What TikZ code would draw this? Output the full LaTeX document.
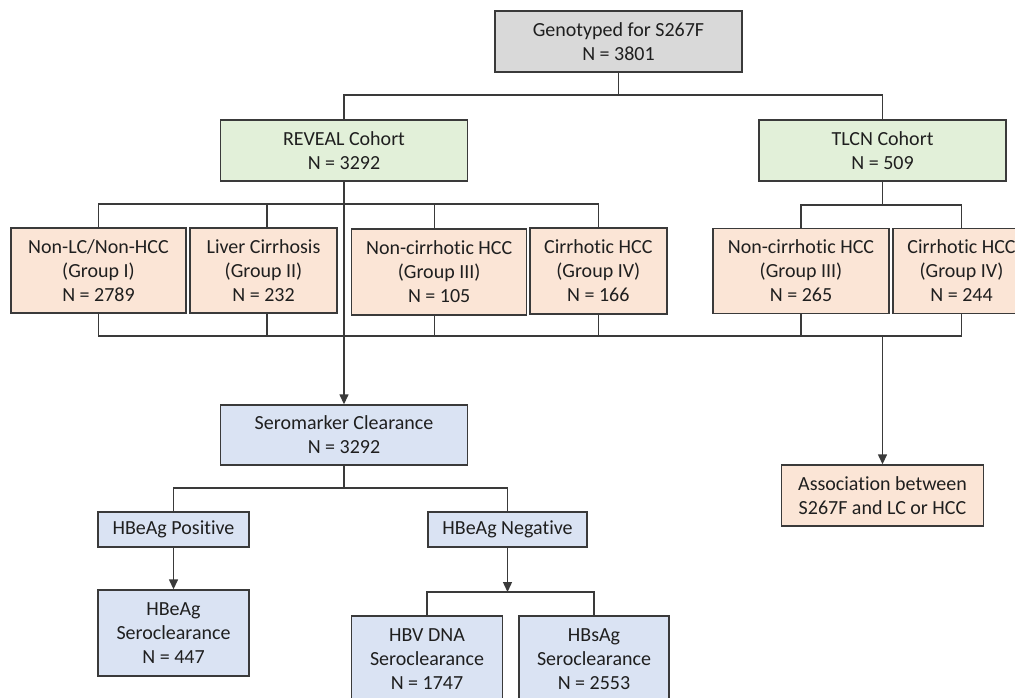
\documentclass[tikz,border=0pt]{standalone}
\usepackage{fontspec}
\setmainfont{Carlito}[Ligatures=NoCommon]
\usetikzlibrary{arrows.meta}
\definecolor{grayc}{HTML}{D9D9D9}
\definecolor{greenc}{HTML}{E2F0D9}
\definecolor{orangec}{HTML}{FBE5D6}
\definecolor{bluec}{HTML}{DAE3F3}
\definecolor{bordc}{HTML}{3A3A3A}
\definecolor{txtc}{HTML}{1F1F1F}
\begin{document}
\begin{tikzpicture}[x=1pt,y=-1pt,
  box/.style={draw=bordc, line width=1.4pt, align=center, inner sep=0pt,
    font=\fontsize{20}{24}\selectfont, text=txtc},
  conn/.style={draw=bordc, line width=1.4pt},
  arr/.style={conn, -{Triangle[width=9pt,length=10pt]}}]
\clip (0,0) rectangle (1015,697);
\fill[white] (0,0) rectangle (1015,697);
% nodes
\node[box, fill=grayc, minimum width=247pt, minimum height=61pt] (top) at (618.5,41.5) {Genotyped for S267F\\N = 3801};
\node[box, fill=greenc, minimum width=247pt, minimum height=61pt] (reveal) at (344,150.5) {REVEAL Cohort\\N = 3292};
\node[box, fill=greenc, minimum width=247pt, minimum height=61pt] (tlcn) at (882.5,150.5) {TLCN Cohort\\N = 509};
\node[box, fill=orangec, minimum width=175pt, minimum height=85pt] (g1) at (98.5,270.5) {Non-LC/Non-HCC\\(Group I)\\N = 2789};
\node[box, fill=orangec, minimum width=147pt, minimum height=85pt] (g2) at (263.5,270.5) {Liver Cirrhosis\\(Group II)\\N = 232};
\node[box, fill=orangec, minimum width=175pt, minimum height=86pt] (g3) at (439.2,272) {Non-cirrhotic HCC\\(Group III)\\N = 105};
\node[box, fill=orangec, minimum width=137pt, minimum height=86pt] (g4) at (598.3,271) {Cirrhotic HCC\\(Group IV)\\N = 166};
\node[box, fill=orangec, minimum width=176pt, minimum height=85pt] (t3) at (801,271) {Non-cirrhotic HCC\\(Group III)\\N = 265};
\node[box, fill=orangec, minimum width=137pt, minimum height=85pt] (t4) at (961.5,271) {Cirrhotic HCC\\(Group IV)\\N = 244};
\node[box, fill=orangec, minimum width=202pt, minimum height=61pt] (assoc) at (882.5,495.5) {Association between\\S267F and LC or HCC};
\node[box, fill=bluec, minimum width=247pt, minimum height=60pt] (sero) at (344,435) {Seromarker Clearance\\N = 3292};
\node[box, fill=bluec, minimum width=151pt, minimum height=35pt] (pos) at (173.5,529.5) {HBeAg Positive};
\node[box, fill=bluec, minimum width=159pt, minimum height=35pt] (neg) at (507.5,529.5) {HBeAg Negative};
\node[box, fill=bluec, minimum width=151pt, minimum height=86pt] (hbeag) at (173.5,633) {HBeAg\\Seroclearance\\N = 447};
\node[box, fill=bluec, minimum width=151pt, minimum height=86pt] (hbv) at (427,659) {HBV DNA\\Seroclearance\\N = 1747};
\node[box, fill=bluec, minimum width=150pt, minimum height=86pt] (hbs) at (594,659) {HBsAg\\Seroclearance\\N = 2553};
% junctions
\coordinate (j0) at (618.5,95);
\coordinate (rb) at (344,204);
\coordinate (tb) at (882.5,205);
\coordinate (mR) at (961.5,336);
\coordinate (m) at (882.5,336);
\coordinate (sb) at (344,488);
\coordinate (nb) at (507.5,592);
% connectors
\draw[conn] (top.south) -- (j0);
\draw[conn] (reveal.north) |- (j0) -| (tlcn.north);
\draw[conn] (g1.north) |- (rb) -| (g4.north);
\draw[conn] ([xshift=3.5pt]g2.north) -- ([xshift=3.5pt]g2.north |- rb);
\draw[conn] ([xshift=-4.5pt]g3.north) -- ([xshift=-4.5pt]g3.north |- rb);
\draw[conn] (tlcn.south) -- (tb);
\draw[conn] (t3.north) |- (tb) -| (t4.north);
\draw[conn] (g1.south) |- (mR) -- (t4.south);
\draw[conn] ([xshift=3.5pt]g2.south) -- ([xshift=3.5pt]g2.south |- mR);
\draw[conn] ([xshift=-4.5pt]g3.south) -- ([xshift=-4.5pt]g3.south |- mR);
\draw[conn] (g4.south) -- (g4.south |- mR);
\draw[conn] (t3.south) -- (t3.south |- mR);
\draw[arr] (reveal.south) -- (sero.north);
\draw[arr] (m) -- (assoc.north);
\draw[conn] (sero.south) -- (sb);
\draw[conn] (pos.north) |- (sb) -| (neg.north);
\draw[arr] (pos.south) -- (hbeag.north);
\draw[arr] (neg.south) -- (nb);
\draw[conn] (hbv.north) |- (nb) -| (hbs.north);
\end{tikzpicture}
\end{document}
